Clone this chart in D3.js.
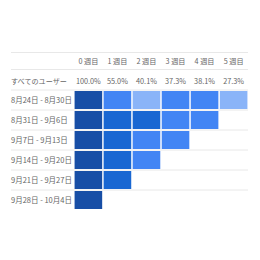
<!DOCTYPE html>
<html><head><meta charset="utf-8">
<script src="https://cdn.jsdelivr.net/npm/d3@7"></script>
<style>
html,body{margin:0;padding:0;background:#fff;}
text{font-family:"Noto Sans CJK JP","Noto Sans",sans-serif;}
</style></head>
<body><svg id="c" width="260" height="260"></svg>
<script>
const weeks = ["0 週目","1 週目","2 週目","3 週目","4 週目","5 週目"];
const cohorts = ["8月24日 - 8月30日","8月31日 - 9月6日","9月7日 - 9月13日","9月14日 - 9月20日","9月21日 - 9月27日","9月28日 - 10月4日"];
const allUsersLabel = "すべてのユーザー";
const allUsers = [100.0, 55.0, 40.1, 37.3, 38.1, 27.3];
const row0 = [100, 48.2, 29.5, 36.1, 38.1, 27.3];
const row1 = [100, 57.4, 50.6, 38.5, 38.1];
const row2 = [100, 56.3, 41.2, 37.4];
const row3 = [100, 58.0, 39.0];
const row4 = [100, 55.1];
const row5 = [100];
const rows = [row0,row1,row2,row3,row4,row5];

const svg = d3.select("#c");
const x = d3.scaleBand().domain(d3.range(weeks.length)).range([74,248]).paddingInner(0.05).paddingOuter(0.02);
const y = d3.scaleBand().domain(d3.range(cohorts.length)).range([90,210]).paddingInner(0.1).paddingOuter(0.05);
const color = d3.scaleThreshold().domain([32,50,70]).range(["#8ab4f8","#4285f4","#1967d2","#174ea6"]);

// grid lines
const lineYs = [52.5, 69.5].concat(d3.range(cohorts.length).map(i => 90 + i*y.step()));
svg.selectAll("line.g").data(lineYs).join("line")
  .attr("x1",11).attr("x2",248).attr("y1",d=>d).attr("y2",d=>d)
  .attr("stroke","#e8e8e8").attr("stroke-width",1);

// headers
svg.selectAll("text.h").data(weeks).join("text")
  .attr("x",(d,i)=>x(i)+x.bandwidth()/2).attr("y",64)
  .attr("text-anchor","middle").attr("font-size",7.2).attr("fill","#666").text(d=>d);

// all users row
svg.append("text").attr("x",11).attr("y",84).attr("font-size",7.1).attr("fill","#666").text(allUsersLabel);
svg.selectAll("text.v").data(allUsers).join("text")
  .attr("x",(d,i)=>x(i)+x.bandwidth()/2).attr("y",84)
  .attr("text-anchor","middle").attr("font-size",7.3).attr("fill","#666").text(d=>d.toFixed(1)+"%");

// cohort labels
svg.selectAll("text.l").data(cohorts).join("text")
  .attr("x",11).attr("y",(d,i)=>y(i)+y.bandwidth()/2+3)
  .attr("font-size",7.5).attr("fill","#666").text(d=>d);

// cells
rows.forEach((r,ri)=>{
  svg.selectAll("rect.r"+ri).data(r).join("rect")
    .attr("x",(d,i)=>x(i)).attr("y",y(ri))
    .attr("width",x.bandwidth()).attr("height",y.bandwidth())
    .attr("fill",d=>color(d));
});
</script></body></html>
